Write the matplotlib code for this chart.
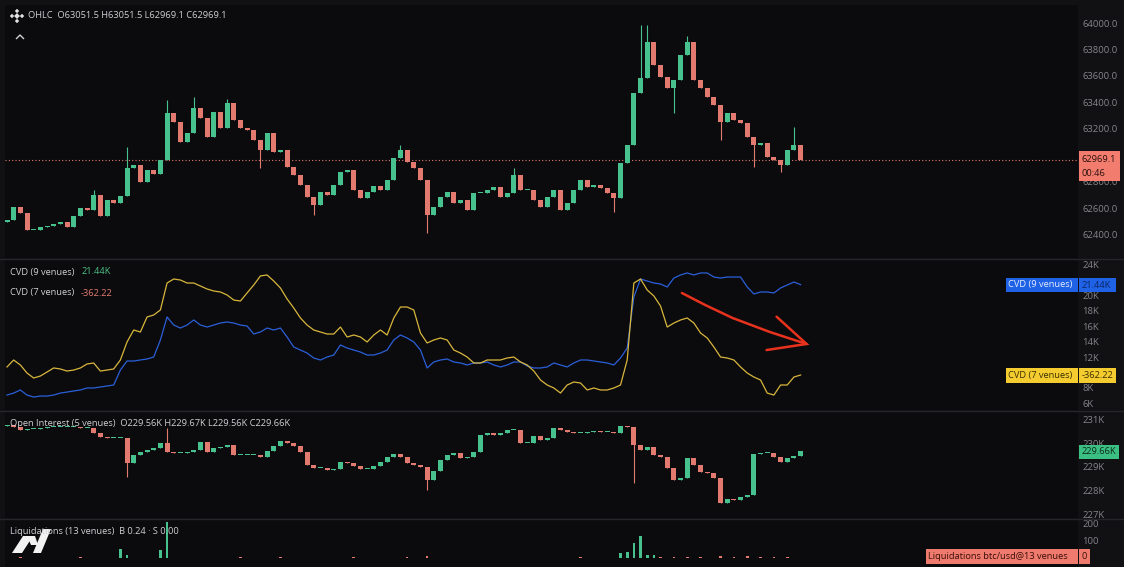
import matplotlib
matplotlib.use('Agg')
import matplotlib.pyplot as plt
from matplotlib.patches import Polygon, Rectangle
import numpy as np

plt.rcParams['font.family'] = ['Open Sans', 'DejaVu Sans']

# ---------------- data ----------------
price_open_first = 62500.0
price_close = [62513, 62611, 62566, 62438, 62438, 62460, 62468, 62483, 62498, 62460,
               62543, 62604, 62589, 62702, 62543, 62664, 62641, 62694, 62905, 62928,
               62800, 62890, 62860, 62966, 63321, 63253, 63102, 63170, 63358, 63283,
               63140, 63328, 63207, 63396, 63268, 63207, 63192, 63117, 63042, 63170,
               63026, 63042, 62913, 62853, 62777, 62687, 62626, 62725, 62702, 62777,
               62875, 62890, 62740, 62679, 62725, 62770, 62740, 62815, 62981, 63042,
               62951, 62905, 62815, 62551, 62611, 62687, 62725, 62641, 62664, 62589,
               62717, 62717, 62740, 62762, 62687, 62717, 62853, 62740, 62740, 62664,
               62611, 62687, 62740, 62589, 62641, 62740, 62815, 62762, 62777, 62755,
               62717, 62679, 62943, 63079, 63472, 63585, 63857, 63683, 63592, 63509,
               63570, 63758, 63857, 63570, 63509, 63442, 63381, 63253, 63321, 63268,
               63245, 63140, 63079, 63094, 62989, 62966, 62928, 63042, 63079, 62969.1]
price_wick_high = {13: 62740, 18: 63064, 24: 63419, 28: 63442, 33: 63426, 59: 63079,
                   76: 62906, 95: 63985, 96: 63985, 102: 63902, 118: 63215}
price_wick_low = {38: 62906, 46: 62551, 63: 62415, 91: 62574, 100: 63321, 107: 63117,
                  112: 62913, 116: 62875}
last_price = 62969.1
price_ticks = [62400, 62600, 62800, 63200, 63400, 63600, 63800, 64000]

cvd7 = [10.70, 11.61, 10.96, 9.91, 9.26, 9.52, 10.04, 10.57, 10.44, 10.17,
        10.30, 10.57, 11.09, 11.22, 10.17, 10.30, 10.44, 11.61, 13.96, 15.52,
        15.26, 17.22, 17.48, 18.13, 21.65, 22.17, 22.04, 21.65, 21.65, 21.26,
        20.87, 20.61, 20.48, 20.09, 19.43, 19.30, 20.35, 21.39, 22.57, 22.70,
        21.91, 21.00, 19.57, 18.39, 17.09, 16.17, 15.52, 15.26, 15.00, 15.00,
        15.91, 14.61, 14.87, 14.61, 13.96, 14.87, 15.52, 14.87, 17.09, 18.52,
        18.52, 18.13, 15.13, 13.83, 14.22, 14.48, 14.22, 12.91, 12.52, 12.00,
        11.22, 11.22, 11.61, 11.61, 11.61, 11.87, 12.00, 11.35, 10.96, 10.17,
        9.00, 8.35, 7.96, 7.30, 8.35, 8.74, 8.61, 7.70, 7.96, 7.70,
        7.70, 7.96, 8.35, 11.61, 21.65, 22.17, 20.74, 19.96, 18.65, 15.91,
        16.43, 16.83, 17.09, 16.43, 15.13, 14.48, 13.30, 12.00, 11.87, 11.61,
        10.70, 9.91, 9.39, 9.00, 7.30, 7.04, 8.35, 8.35, 9.39, 9.65]
cvd9 = [7.04, 7.30, 7.70, 7.04, 6.78, 6.91, 6.91, 7.04, 7.30, 7.43,
        7.57, 7.70, 7.96, 7.96, 8.09, 8.22, 8.35, 10.30, 11.48, 11.48,
        11.61, 11.74, 12.00, 14.22, 17.22, 16.17, 15.78, 16.17, 16.83, 16.17,
        15.91, 16.17, 16.43, 16.57, 16.43, 16.17, 16.04, 15.00, 15.26, 15.78,
        15.52, 15.78, 14.61, 13.30, 12.91, 12.52, 11.87, 11.61, 12.00, 12.26,
        13.57, 13.17, 12.91, 12.65, 12.26, 12.26, 12.52, 12.91, 14.22, 14.87,
        14.48, 13.96, 12.91, 10.57, 11.35, 11.61, 11.74, 11.35, 11.22, 10.96,
        11.22, 11.22, 11.35, 10.96, 10.70, 10.96, 11.35, 11.35, 10.83, 10.57,
        10.57, 10.70, 11.22, 10.96, 10.70, 11.22, 11.61, 11.61, 11.48, 11.35,
        11.22, 10.96, 11.87, 13.17, 19.83, 22.17, 21.91, 21.65, 21.52, 21.13,
        22.30, 22.70, 22.96, 22.70, 22.96, 22.96, 22.43, 22.30, 22.43, 22.43,
        22.43, 21.13, 20.22, 20.48, 20.48, 20.35, 21.00, 21.39, 21.78, 21.44]
cvd_ticks = [6, 8, 12, 14, 16, 18, 20, 24]

oi_open_first = 230.75
oi_close = [230.79, 230.70, 230.57, 230.62, 230.62, 230.66, 230.70, 230.70, 230.70, 230.70,
            230.70, 230.66, 230.66, 230.45, 230.28, 230.23, 230.23, 230.23, 229.17, 229.51,
            229.64, 229.72, 229.81, 230.02, 229.64, 229.60, 229.60, 229.64, 229.72, 230.06,
            229.64, 229.81, 229.85, 229.94, 229.51, 229.51, 229.51, 229.51, 229.43, 229.68,
            229.89, 230.11, 230.02, 229.89, 229.64, 229.09, 228.96, 228.96, 228.87, 228.91,
            229.21, 229.17, 229.04, 228.91, 228.91, 229.04, 229.21, 229.43, 229.55, 229.43,
            229.17, 229.09, 229.00, 228.45, 228.83, 229.30, 229.51, 229.60, 229.38, 229.43,
            229.64, 230.36, 230.45, 230.36, 230.45, 230.57, 230.57, 230.02, 230.02, 230.32,
            230.15, 230.23, 230.66, 230.57, 230.49, 230.45, 230.45, 230.49, 230.53, 230.49,
            230.49, 230.45, 230.74, 230.70, 229.94, 229.72, 229.85, 229.51, 229.43, 228.96,
            228.45, 228.53, 229.38, 229.09, 228.79, 228.74, 228.53, 227.47, 227.64, 227.60,
            227.72, 227.81, 229.55, 229.60, 229.60, 229.43, 229.21, 229.38, 229.47, 229.66]
oi_wick_high = {24: 230.66}
oi_wick_low = {18: 228.57, 63: 228.02, 94: 228.32}
oi_ticks = [227, 228, 229, 230, 231]

liq_buy = {17: 55, 18: 20, 23: 45, 24: 210, 92: 30, 93: 35, 94: 90, 95: 130, 96: 15, 97: 20}
liq_sell = {2: 8, 11: 6, 35: 6, 41: 6, 52: 6, 60: 6, 63: 10, 86: 5, 98: 8, 100: 8, 102: 6,
            104: 8, 107: 10, 109: 8, 111: 10, 113: 8, 115: 6, 117: 6}
liq_ticks = [100, 200]

# annotation arrow (bar index, CVD K)
arrow_path_x = [101.2, 104.7, 108.8, 114.4, 119.9]
arrow_path_y = [20.35, 18.78, 17.09, 15.26, 13.70]
arrow_head_x = [115.4, 119.9, 113.9]
arrow_head_y = [17.26, 13.70, 12.91]

# ---------------- styling ----------------
W, H = 1124, 567
BG = '#0b0b0d'
UP = '#47c28e'
DN = '#e27a70'
TICK = '#85858a'
TXT = '#cfcfd3'
FS = 6.7

fig = plt.figure(figsize=(W / 100, H / 100), dpi=100)
fig.patch.set_facecolor('#111114')

n = len(price_close)
XL = (-0.3, 160.6)


def panel(top, bottom, ylim, ticks, fmt):
    ax = fig.add_axes([5 / W, 1 - bottom / H, (1078 - 5) / W, (bottom - top) / H])
    ax.set_facecolor(BG)
    for s in ax.spines.values():
        s.set_visible(False)
    ax.set_xlim(*XL)
    ax.set_ylim(*ylim)
    ax.set_xticks([])
    ax.yaxis.tick_right()
    ax.set_yticks(ticks)
    ax.set_yticklabels([fmt(t) for t in ticks])
    ax.tick_params(axis='y', length=0, pad=3, labelsize=6.8, labelcolor=TICK)
    return ax


def candles(ax, first_open, closes, whigh, wlow, minh):
    closes = np.asarray(closes, float)
    opens = np.concatenate([[first_open], closes[:-1]])
    x = np.arange(len(closes))
    cols = [UP if c >= o else DN for o, c in zip(opens, closes)]
    hi = np.maximum(opens, closes)
    lo = np.minimum(opens, closes)
    for k, v in whigh.items():
        hi[k] = max(hi[k], v)
    for k, v in wlow.items():
        lo[k] = min(lo[k], v)
    ax.vlines(x, lo, hi, colors=cols, lw=0.8, zorder=2)
    body_lo = np.minimum(opens, closes)
    body_h = np.maximum(np.abs(closes - opens), minh)
    ax.bar(x, body_h, 0.75, bottom=body_lo, color=cols, linewidth=0, zorder=3)


# price panel
axp = panel(5, 258, (62226, 64136), price_ticks, lambda v: f"{v:.1f}")
candles(axp, price_open_first, price_close, price_wick_high, price_wick_low, 8)
axp.axhline(last_price, color=DN, lw=0.8, ls=(0, (1, 2)), zorder=1)

# CVD panel
axc = panel(260, 410, (5.09, 24.65), cvd_ticks, lambda v: f"{v}K")
xs = np.arange(n)
axc.plot(xs, cvd7, color='#d8b63c', lw=0.9, zorder=3)
axc.plot(xs, cvd9, color='#2b5fd9', lw=0.9, zorder=2)
axc.plot(arrow_path_x, arrow_path_y, color='#e8321e', lw=1.8, solid_capstyle='round', zorder=5)
axc.plot(arrow_head_x, arrow_head_y, color='#e8321e', lw=1.8, solid_capstyle='round',
         solid_joinstyle='miter', zorder=5)

# OI panel
axo = panel(412, 518, (226.83, 231.34), oi_ticks, lambda v: f"{v}K")
candles(axo, oi_open_first, oi_close, oi_wick_high, oi_wick_low, 0.05)

# Liquidations panel
axl = panel(520, 567, (-53, 223.5), liq_ticks, lambda v: f"{v}")
buy = np.zeros(n)
sell = np.zeros(n)
for k, v in liq_buy.items():
    buy[k] = v
for k, v in liq_sell.items():
    sell[k] = v
axl.bar(xs, buy, 0.4, color=UP, linewidth=0)
axl.bar(xs, sell, 0.4, color=DN, linewidth=0)

# ---------------- overlay (pixel coordinates) ----------------
ov = fig.add_axes([0, 0, 1, 1], zorder=10)
ov.set_xlim(0, W)
ov.set_ylim(H, 0)
ov.axis('off')

for y in (259, 411, 519):
    ov.plot([0, W], [y, y], color='#25252a', lw=1)

# Binance-like logo
ov.scatter([17, 12, 22, 17, 17], [11, 16, 16, 21, 16], marker='D', s=[5, 5, 5, 5, 9],
           color='#e4e4e4', linewidths=0)
ov.text(28, 16, "OHLC  O63051.5 H63051.5 L62969.1 C62969.1", color=TXT, fontsize=FS,
        va='center', ha='left')
ov.plot([16.5, 20, 23.5], [38.5, 35, 38.5], color='#d0d0d0', lw=1)

ov.text(10, 272, "CVD (9 venues)", color=TXT, fontsize=FS, va='center')
ov.text(82, 272, "21.44K", color='#4cbf86', fontsize=FS, va='center')
ov.text(10, 293, "CVD (7 venues)", color=TXT, fontsize=FS, va='center')
ov.text(81, 293, "-362.22", color=DN, fontsize=FS, va='center')

ov.text(10, 424, "Open Interest (5 venues)  O229.56K H229.67K L229.56K C229.66K",
        color=TXT, fontsize=FS, va='center')
ov.text(10, 532, "Liquidations (13 venues)  B 0.24 · S 0.00", color=TXT, fontsize=FS,
        va='center')

# bottom-left logo
ov.add_patch(Polygon([(12, 553), (22, 553), (33, 536), (23, 536)], closed=True,
                     color='#f2f2f2', lw=0))
ov.add_patch(Polygon([(27, 536), (35, 536), (38, 545), (31, 545)], closed=True,
                     color='#f2f2f2', lw=0))
ov.add_patch(Polygon([(33, 553), (41, 553), (51, 529), (43, 529)], closed=True,
                     color='#f2f2f2', lw=0))


def box(x, y, w, h, fc, label, tc):
    ov.add_patch(Rectangle((x, y), w, h, facecolor=fc, edgecolor='none'))
    ov.text(x + 2.5, y + h / 2, label, color=tc, fontsize=FS, va='center', ha='left')


# price label
ov.add_patch(Rectangle((1079, 151), 41, 30, facecolor='#f27d6f', edgecolor='none'))
ov.text(1081.5, 159, f"{last_price:.1f}", color='#2a0f0c', fontsize=FS, va='center')
ov.text(1081.5, 174, "00:46", color='#2a0f0c', fontsize=FS, va='center')

box(1006, 278, 72, 14, '#1f62e6', "CVD (9 venues)", '#e6edff')
box(1079, 278, 37, 14, '#1f62e6', "21.44K", '#0c2766')
box(1006, 368, 72, 15, '#f5cc2f', "CVD (7 venues)", '#3a2e00')
box(1079, 368, 37, 15, '#f5cc2f', "-362.22", '#3a2e00')
box(1079, 445, 40, 14, '#3cbf82', "229.66K", '#0b2a1b')
box(926, 549, 152, 15, '#ee7b6d', "Liquidations btc/usd@13 venues", '#3a0d08')
box(1079, 549, 11, 15, '#ee7b6d', "0", '#3a0d08')

fig.savefig('out.png', dpi=100, facecolor=fig.get_facecolor())
